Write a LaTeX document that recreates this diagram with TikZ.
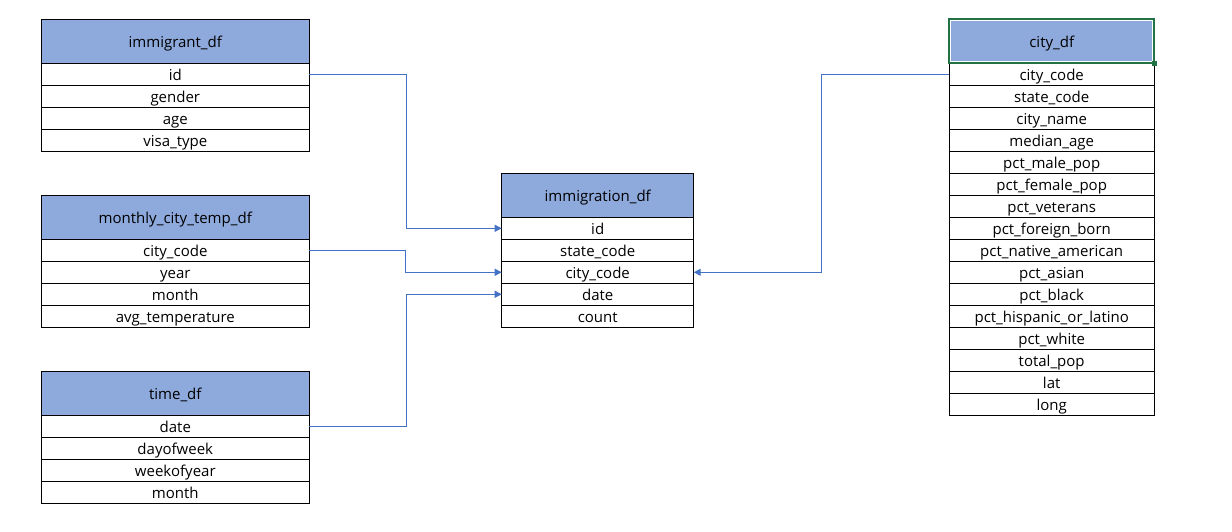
\documentclass[tikz,border=0pt]{standalone}
\usepackage{fontspec}
\setmainfont{Open Sans}
\usetikzlibrary{positioning}
\usetikzlibrary{arrows.meta}

\definecolor{headblue}{RGB}{142,169,219}
\definecolor{linkblue}{RGB}{68,114,196}
\definecolor{selgreen}{RGB}{33,115,70}

\tikzset{
  head/.style={draw, fill=headblue, line width=1pt, minimum height=44pt, inner sep=0pt, outer sep=0pt, text height=14.6pt, text depth=3pt, font=\fontsize{15}{18}\selectfont},
  field/.style={draw, line width=1pt, minimum height=22pt, inner sep=0pt, outer sep=0pt, text height=14.6pt, text depth=3pt, font=\fontsize{15}{18}\selectfont},
  link/.style={linkblue, line width=1pt, -{Triangle[length=7pt,width=7pt]}},
}

\begin{document}
\begin{tikzpicture}[x=1pt, y=-1pt]
\fill[white] (0,0) rectangle (1232,532);
\useasboundingbox (0,0) rectangle (1232,532);

% immigrant_df
\node[head, minimum width=268pt] (imm-0) at (175.3,41.3) {immigrant\_df};
\foreach \f [count=\i, remember=\i as \j (initially 0)] in {id, gender, age, visa\_type}
\node[field, minimum width=268pt, below=0pt of imm-\j] (imm-\i) {\f};

% monthly_city_temp_df
\node[head, minimum width=268pt] (temp-0) at (175.3,217.3) {monthly\_city\_temp\_df};
\foreach \f [count=\i, remember=\i as \j (initially 0)] in {city\_code, year, month, avg\_temperature}
\node[field, minimum width=268pt, below=0pt of temp-\j] (temp-\i) {\f};

% time_df
\node[head, minimum width=268pt] (time-0) at (175.3,393.3) {time\_df};
\foreach \f [count=\i, remember=\i as \j (initially 0)] in {date, dayofweek, weekofyear, month}
\node[field, minimum width=268pt, below=0pt of time-\j] (time-\i) {\f};

% immigration_df
\node[head, minimum width=192pt] (fact-0) at (597.7,195.3) {immigration\_df};
\foreach \f [count=\i, remember=\i as \j (initially 0)] in {id, state\_code, city\_code, date, count}
\node[field, minimum width=192pt, below=0pt of fact-\j] (fact-\i) {\f};

% city_df
\node[head, draw=white, minimum width=205.3pt] (city-0) at (1051.7,41.3) {city\_df};
\foreach \f [count=\i, remember=\i as \j (initially 0)] in {city\_code, state\_code, city\_name, median\_age, pct\_male\_pop, pct\_female\_pop, pct\_veterans, pct\_foreign\_born, pct\_native\_american, pct\_asian, pct\_black, pct\_hispanic\_or\_latino, pct\_white, total\_pop, lat, long}
\node[field, minimum width=205.3pt, below=0pt of city-\j] (city-\i) {\f};

% selection frame
\draw[selgreen, line width=2.2pt] (city-0.north west) rectangle (city-0.south east);
\draw[white, line width=1pt] ([shift={(1.6,1.6)}]city-0.north west) rectangle ([shift={(-1.6,-1.6)}]city-0.south east);
\fill[selgreen] ([shift={(-2.5,-2.5)}]city-0.south east) rectangle ([shift={(2.5,2.5)}]city-0.south east);

% links
\draw[link] (imm-1.east) -- ++(97,0) |- (fact-1.west);
\draw[link] (temp-1.east) -- ++(96,0) |- (fact-3.west);
\draw[link] (time-1.east) -- ++(97,0) |- (fact-4.west);
\draw[link] (city-1.west) -- ++(-128,0) |- (fact-3.east);

\end{tikzpicture}
\end{document}
